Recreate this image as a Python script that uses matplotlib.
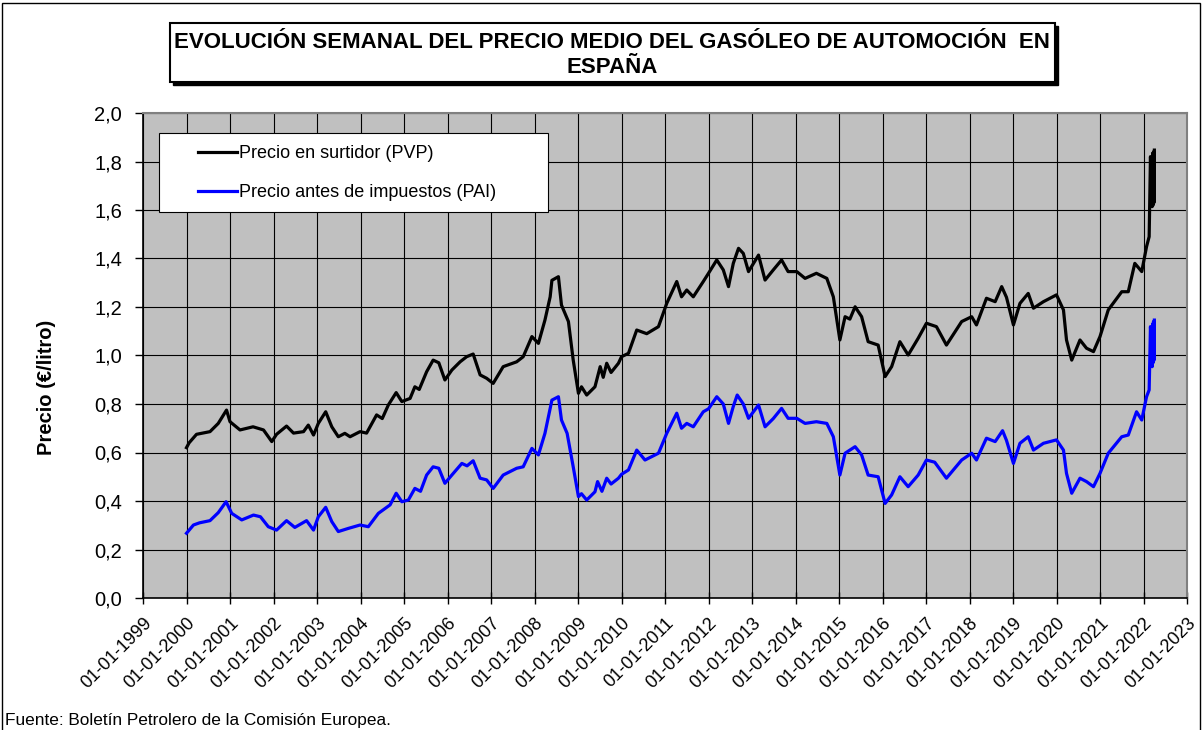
import matplotlib

matplotlib.use("Agg")
import matplotlib.pyplot as plt
from matplotlib.patches import Rectangle
from matplotlib.ticker import FuncFormatter, MultipleLocator

plt.rcParams["font.family"] = ["Liberation Sans", "DejaVu Sans"]

# fechas en años decimales, precios en €/litro
pvp_t = [
    2000.00, 2000.06, 2000.23, 2000.54, 2000.73, 2000.92, 2001.00, 2001.23, 2001.53, 2001.77,
    2001.96, 2002.07, 2002.30, 2002.46, 2002.69, 2002.80, 2002.92, 2003.03, 2003.20, 2003.34,
    2003.49, 2003.64, 2003.76, 2003.99, 2004.14, 2004.37, 2004.50, 2004.64, 2004.82, 2004.95,
    2005.14, 2005.25, 2005.35, 2005.52, 2005.67, 2005.80, 2005.94, 2006.10, 2006.29, 2006.44,
    2006.59, 2006.75, 2006.90, 2007.05, 2007.28, 2007.59, 2007.74, 2007.94, 2008.09, 2008.24,
    2008.36, 2008.40, 2008.55, 2008.62, 2008.78, 2008.89, 2009.01, 2009.08, 2009.20, 2009.39,
    2009.51, 2009.58, 2009.66, 2009.76, 2009.93, 2010.00, 2010.16, 2010.35, 2010.58, 2010.85,
    2011.04, 2011.27, 2011.38, 2011.50, 2011.65, 2011.88, 2012.00, 2012.19, 2012.34, 2012.46,
    2012.57, 2012.69, 2012.80, 2012.92, 2013.15, 2013.30, 2013.49, 2013.68, 2013.83, 2014.03,
    2014.22, 2014.48, 2014.72, 2014.87, 2015.02, 2015.14, 2015.25, 2015.37, 2015.52, 2015.67,
    2015.90, 2016.06, 2016.21, 2016.40, 2016.59, 2016.82, 2017.01, 2017.24, 2017.47, 2017.82,
    2018.05, 2018.16, 2018.39, 2018.59, 2018.74, 2018.85, 2019.01, 2019.16, 2019.35, 2019.47,
    2019.70, 2020.00, 2020.16, 2020.23, 2020.35, 2020.54, 2020.69, 2020.85, 2021.00, 2021.19,
    2021.50, 2021.65, 2021.80, 2021.96, 2022.07, 2022.13, 2022.16, 2022.18, 2022.20, 2022.21,
    2022.22, 2022.23, 2022.24, 2022.25,
]
pvp = [
    0.620, 0.640, 0.675, 0.686, 0.720, 0.775, 0.727, 0.693, 0.706, 0.693,
    0.645, 0.675, 0.709, 0.680, 0.686, 0.713, 0.672, 0.720, 0.768, 0.706,
    0.665, 0.679, 0.665, 0.686, 0.680, 0.755, 0.740, 0.796, 0.847, 0.810,
    0.823, 0.871, 0.860, 0.933, 0.981, 0.970, 0.899, 0.940, 0.974, 0.995,
    1.006, 0.920, 0.906, 0.885, 0.954, 0.974, 0.995, 1.078, 1.050, 1.146,
    1.242, 1.310, 1.325, 1.208, 1.140, 0.981, 0.844, 0.871, 0.837, 0.871,
    0.954, 0.910, 0.968, 0.930, 0.968, 0.995, 1.009, 1.105, 1.090, 1.119,
    1.215, 1.305, 1.242, 1.270, 1.242, 1.305, 1.339, 1.394, 1.353, 1.284,
    1.380, 1.442, 1.421, 1.346, 1.414, 1.311, 1.353, 1.394, 1.346, 1.346,
    1.318, 1.339, 1.318, 1.242, 1.064, 1.160, 1.150, 1.201, 1.160, 1.057,
    1.043, 0.913, 0.954, 1.057, 1.002, 1.071, 1.133, 1.119, 1.043, 1.140,
    1.160, 1.126, 1.236, 1.222, 1.284, 1.240, 1.126, 1.215, 1.256, 1.195,
    1.222, 1.250, 1.188, 1.064, 0.981, 1.064, 1.030, 1.016, 1.078, 1.188,
    1.263, 1.263, 1.380, 1.346, 1.449, 1.490, 1.820, 1.700, 1.614, 1.834,
    1.620, 1.840, 1.630, 1.847,
]

pai_t = [
    2000.00, 2000.16, 2000.30, 2000.54, 2000.73, 2000.91, 2001.04, 2001.27, 2001.54, 2001.70,
    2001.88, 2002.07, 2002.30, 2002.49, 2002.76, 2002.92, 2003.03, 2003.20, 2003.34, 2003.49,
    2003.72, 2003.99, 2004.18, 2004.41, 2004.68, 2004.82, 2004.95, 2005.10, 2005.25, 2005.38,
    2005.52, 2005.67, 2005.80, 2005.94, 2006.10, 2006.33, 2006.45, 2006.59, 2006.75, 2006.90,
    2007.05, 2007.28, 2007.59, 2007.74, 2007.94, 2008.09, 2008.24, 2008.40, 2008.55, 2008.62,
    2008.75, 2008.89, 2009.01, 2009.08, 2009.20, 2009.39, 2009.45, 2009.55, 2009.66, 2009.76,
    2009.93, 2010.00, 2010.16, 2010.35, 2010.54, 2010.85, 2011.04, 2011.27, 2011.38, 2011.50,
    2011.65, 2011.88, 2012.00, 2012.19, 2012.34, 2012.46, 2012.57, 2012.66, 2012.80, 2012.92,
    2013.15, 2013.30, 2013.49, 2013.68, 2013.83, 2014.03, 2014.22, 2014.48, 2014.72, 2014.87,
    2015.02, 2015.14, 2015.37, 2015.52, 2015.67, 2015.90, 2016.06, 2016.21, 2016.40, 2016.59,
    2016.82, 2017.01, 2017.20, 2017.47, 2017.82, 2018.05, 2018.16, 2018.39, 2018.59, 2018.76,
    2018.85, 2019.01, 2019.16, 2019.35, 2019.47, 2019.70, 2020.00, 2020.16, 2020.23, 2020.35,
    2020.54, 2020.69, 2020.85, 2021.00, 2021.19, 2021.50, 2021.65, 2021.84, 2021.96, 2022.07,
    2022.13, 2022.16, 2022.18, 2022.20, 2022.21, 2022.22, 2022.23, 2022.24, 2022.25,
]
pai = [
    0.267, 0.301, 0.310, 0.319, 0.352, 0.397, 0.349, 0.322, 0.342, 0.335,
    0.294, 0.280, 0.319, 0.291, 0.319, 0.280, 0.335, 0.374, 0.315, 0.274,
    0.287, 0.301, 0.294, 0.349, 0.384, 0.432, 0.397, 0.404, 0.452, 0.440,
    0.507, 0.541, 0.535, 0.473, 0.507, 0.555, 0.545, 0.566, 0.494, 0.487,
    0.452, 0.507, 0.535, 0.541, 0.617, 0.590, 0.679, 0.816, 0.830, 0.734,
    0.679, 0.541, 0.418, 0.430, 0.404, 0.438, 0.480, 0.440, 0.494, 0.470,
    0.494, 0.510, 0.528, 0.610, 0.569, 0.597, 0.679, 0.762, 0.700, 0.720,
    0.706, 0.768, 0.780, 0.830, 0.800, 0.720, 0.790, 0.837, 0.800, 0.741,
    0.796, 0.706, 0.740, 0.782, 0.741, 0.741, 0.720, 0.727, 0.720, 0.665,
    0.507, 0.597, 0.624, 0.590, 0.507, 0.500, 0.390, 0.425, 0.500, 0.459,
    0.507, 0.569, 0.560, 0.494, 0.569, 0.597, 0.569, 0.659, 0.645, 0.690,
    0.650, 0.555, 0.638, 0.665, 0.610, 0.638, 0.652, 0.610, 0.514, 0.432,
    0.494, 0.480, 0.459, 0.514, 0.597, 0.665, 0.672, 0.768, 0.734, 0.830,
    0.858, 1.119, 1.030, 0.954, 1.130, 0.970, 1.140, 0.980, 1.146,
]

years = list(range(1999, 2024))
tick_labels = [f"01-01-{y}" for y in years]

W, H = 1204, 730
fig = plt.figure(figsize=(W / 100, H / 100), dpi=100)
ax = fig.add_axes([143 / W, 1 - 598 / H, 1044 / W, 485 / H])

# marco exterior
fig.patches.append(Rectangle((2 / W, -0.01), 1198 / W, 1.01 - 3 / H, transform=fig.transFigure,
                             fill=False, edgecolor="black", linewidth=1.0))

ax.set_facecolor("#C0C0C0")
ax.plot(pvp_t, pvp, color="black", linewidth=2.3, label="Precio en surtidor (PVP)")
ax.plot(pai_t, pai, color="#0000FF", linewidth=2.3, label="Precio antes de impuestos (PAI)")

ax.set_xlim(1999, 2023)
ax.set_ylim(0, 2.0)
ax.set_xticks(years)
ax.set_xticklabels(tick_labels, rotation=45, ha="right", rotation_mode="anchor", fontsize=13)
ax.yaxis.set_major_locator(MultipleLocator(0.2))
ax.yaxis.set_major_formatter(FuncFormatter(lambda v, p: f"{v:.1f}".replace(".", ",")))
ax.tick_params(axis="y", labelsize=14.5, direction="out", length=6, width=1, pad=9)
ax.tick_params(axis="x", direction="inout", length=8, width=1, pad=8)
ax.grid(True, color="black", linewidth=0.8)
ax.set_axisbelow(True)
for side in ["top", "right"]:
    ax.spines[side].set_color("#808080")
    ax.spines[side].set_linewidth(1.5)
for side in ["left", "bottom"]:
    ax.spines[side].set_linewidth(1.2)

ax.set_ylabel("Precio (€/litro)", fontsize=14.5, fontweight="bold")
ax.yaxis.set_label_coords(-0.0835, 0.435)

# cuadro de la leyenda
ax.add_patch(Rectangle(((159 - 143) / 1044, (598 - 212) / 485), 389 / 1044, 79 / 485,
                       transform=ax.transAxes, facecolor="white", edgecolor="black",
                       linewidth=0.8, zorder=4))
leg = ax.legend(loc="center left", bbox_to_anchor=((198 - 143) / 1044, (598 - 173) / 485),
                fontsize=13, frameon=False, handlelength=2.15, handletextpad=0.1,
                labelspacing=1.22, borderpad=0, borderaxespad=0)
leg.set_zorder(5)

# cuadro del título con sombra
fig.patches.append(Rectangle((173 / W, 1 - 85 / H), 885 / W, 59 / H, transform=fig.transFigure,
                             facecolor="black", edgecolor="black"))
fig.patches.append(Rectangle((170 / W, 1 - 82 / H), 885 / W, 59 / H, transform=fig.transFigure,
                             facecolor="white", edgecolor="black", linewidth=1.5))
fig.text(612 / W, 1 - 55 / H,
         "EVOLUCIÓN SEMANAL DEL PRECIO MEDIO DEL GASÓLEO DE AUTOMOCIÓN  EN\nESPAÑA",
         ha="center", va="center", fontsize=16, fontweight="bold", linespacing=1.3)

fig.text(5 / W, 1 - 721 / H, "Fuente: Boletín Petrolero de la Comisión Europea.",
         ha="left", va="center", fontsize=12.4)

fig.savefig("out.png", dpi=100)
